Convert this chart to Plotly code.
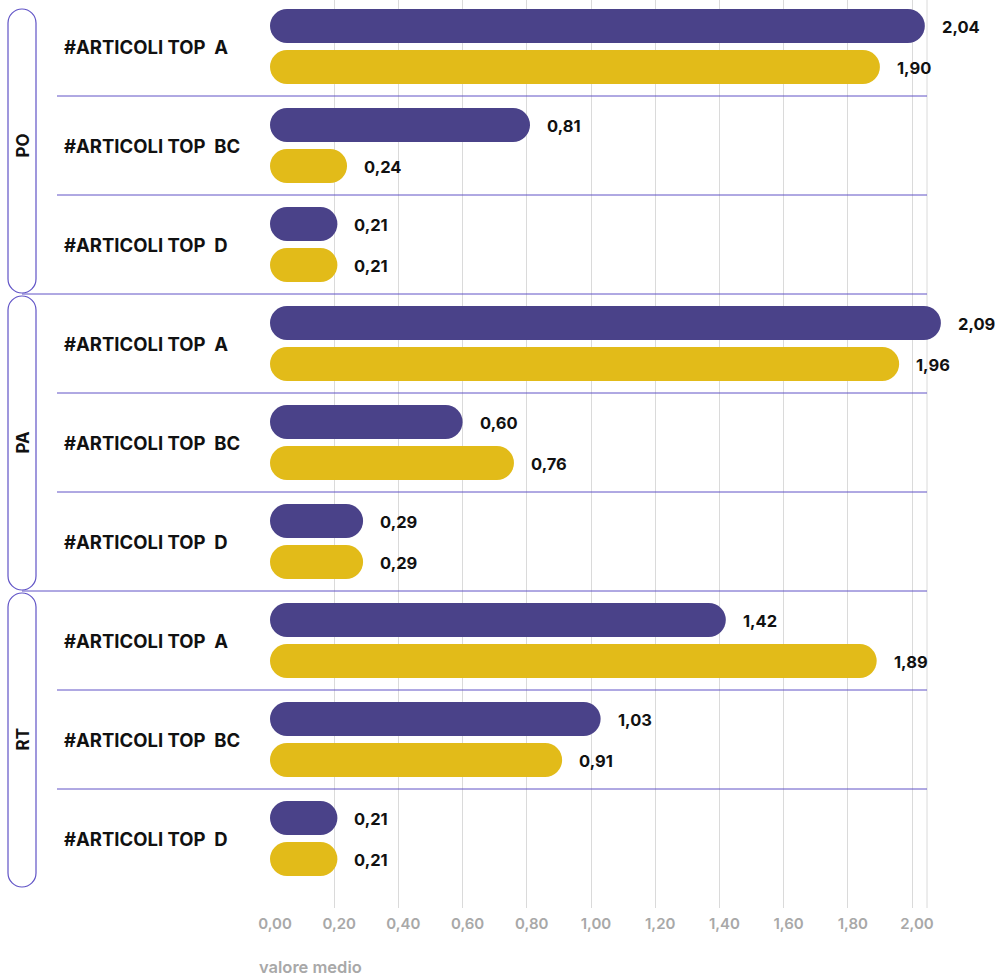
import plotly.graph_objects as go

# ---------------- data ----------------
groups = ["PO", "PA", "RT"]
categories = ["#ARTICOLI TOP\u00a0\u00a0A", "#ARTICOLI TOP\u00a0\u00a0BC", "#ARTICOLI TOP\u00a0\u00a0D"]
purple_vals = [2.04, 0.81, 0.21, 2.09, 0.60, 0.29, 1.42, 1.03, 0.21]
yellow_vals = [1.90, 0.24, 0.21, 1.96, 0.76, 0.29, 1.89, 0.91, 0.21]
tick_vals = [0.0, 0.2, 0.4, 0.6, 0.8, 1.0, 1.2, 1.4, 1.6, 1.8, 2.0]
x_title = "valore medio"

# ---------------- style ----------------
PURPLE = "#4a4289"
YELLOW = "#e2bb19"
LINE = "#6053c6"
GRID = "#dadada"
FONT = "Inter"

W, H = 995, 976
ML, MR, MT, MB = 270, 21, 0, 68
PW = W - ML - MR           # plot width in px
PH = H - MT - MB           # plot height in px
XMAX = PW / 321.0          # px per unit
ROW_PX = 99.0
Y_TOP = -46.5 / ROW_PX
Y_BOT = Y_TOP + PH / ROW_PX

def px_to_paper_x(px):
    return (px - ML) / PW

rows = list(range(len(purple_vals)))
labels_rows = [categories[i % 3] for i in rows]

BAR_W = 34 / ROW_PX
OFF_P = -37.5 / ROW_PX
OFF_Y = 3.5 / ROW_PX

fig = go.Figure()

def add_series(vals, color, offset, name):
    fig.add_trace(go.Bar(
        orientation="h", y=rows, x=vals, base=[0] * len(vals),
        width=BAR_W, offset=offset,
        marker=dict(color=color, cornerradius=17, line=dict(width=0)),
        name=name, showlegend=False, hovertemplate="%{x}<extra></extra>"))

add_series(purple_vals, PURPLE, OFF_P, "serie 1")
add_series(yellow_vals, YELLOW, OFF_Y, "serie 2")

annotations = []
# value labels
for vals, off in ((purple_vals, OFF_P), (yellow_vals, OFF_Y)):
    for r, v in zip(rows, vals):
        annotations.append(dict(
            x=v, y=r + off + BAR_W / 2 + 1.0 / ROW_PX, xref="x", yref="y",
            text=f"{v:.2f}".replace(".", ","), showarrow=False,
            xanchor="left", yanchor="middle", xshift=15,
            font=dict(family=FONT, size=16.5, color="#111111", weight=700)))

# category labels
for r, lab in zip(rows, labels_rows):
    annotations.append(dict(
        x=px_to_paper_x(62), y=r, xref="paper", yref="y", text=lab, showarrow=False,
        xanchor="left", yanchor="middle",
        font=dict(family=FONT, size=18.5, color="#111111", weight=700)))

# group labels
for g_i, g in enumerate(groups):
    annotations.append(dict(
        x=px_to_paper_x(22), y=g_i * 3 + 1, xref="paper", yref="y", text=g, showarrow=False,
        textangle=-90, xanchor="center", yanchor="middle",
        font=dict(family=FONT, size=17, color="#111111", weight=700)))

# axis title
annotations.append(dict(
    x=px_to_paper_x(257), y=-(967 - PH) / PH, xref="paper", yref="paper", text=x_title,
    showarrow=False, xanchor="left", yanchor="middle",
    font=dict(family=FONT, size=16.5, color="#a8a8a8", weight=600)))

shapes = []
# horizontal separators
for b in range(len(rows) - 1):
    is_group = (b % 3 == 2)
    shapes.append(dict(
        type="line", xref="paper", yref="y",
        x0=px_to_paper_x(22 if is_group else 57), x1=px_to_paper_x(927),
        y0=b + 0.5, y1=b + 0.5, line=dict(color=LINE, width=1), layer="above"))

# right border line
shapes.append(dict(type="line", xref="paper", yref="paper",
                   x0=px_to_paper_x(927), x1=px_to_paper_x(927), y0=0, y1=1,
                   line=dict(color=GRID, width=1), layer="below"))

# group pills
def pill_path(xa, xb, ya, yb, rx, ry):
    k = 0.5523
    return (f"M {xa},{ya+ry} L {xa},{yb-ry} "
            f"C {xa},{yb-ry+k*ry} {xa+rx-k*rx},{yb} {xa+rx},{yb} "
            f"L {xb-rx},{yb} "
            f"C {xb-rx+k*rx},{yb} {xb},{yb-ry+k*ry} {xb},{yb-ry} "
            f"L {xb},{ya+ry} "
            f"C {xb},{ya+ry-k*ry} {xb-rx+k*rx},{ya} {xb-rx},{ya} "
            f"L {xa+rx},{ya} "
            f"C {xa+rx-k*rx},{ya} {xa},{ya+ry-k*ry} {xa},{ya+ry} Z")

rx = 14 / PW
ry = 14 / ROW_PX
for g_i in range(len(groups)):
    top = g_i * 3 - 0.5 + 2 / ROW_PX
    if g_i == 0:
        top = -0.5 + 12 / ROW_PX
    bot = g_i * 3 + 2.5 - 1 / ROW_PX
    shapes.append(dict(type="path", xref="paper", yref="y",
                       path=pill_path(px_to_paper_x(8), px_to_paper_x(36), top, bot, rx, ry),
                       line=dict(color=LINE, width=1.2), fillcolor="rgba(0,0,0,0)", layer="above"))

fig.update_layout(
    width=W, height=H, margin=dict(l=ML, r=MR, t=MT, b=MB),
    paper_bgcolor="white", plot_bgcolor="white",
    barmode="overlay", showlegend=False,
    separators=",.",
    annotations=annotations, shapes=shapes,
    xaxis=dict(range=[0, XMAX], tickvals=tick_vals, tickformat=".2f",
               showgrid=True, gridcolor=GRID, gridwidth=1, zeroline=False, showline=False,
               ticks="outside", ticklen=2, tickcolor="rgba(0,0,0,0)", ticklabelshift=5,
               tickfont=dict(family=FONT, size=15, color="#a8a8a8", weight=600), fixedrange=True),
    yaxis=dict(range=[Y_BOT, Y_TOP], showticklabels=False, showgrid=False, zeroline=False,
               showline=False, fixedrange=True),
)

fig.write_html("out.html", config={"displayModeBar": False},
               post_script="document.body.style.margin='0';")
